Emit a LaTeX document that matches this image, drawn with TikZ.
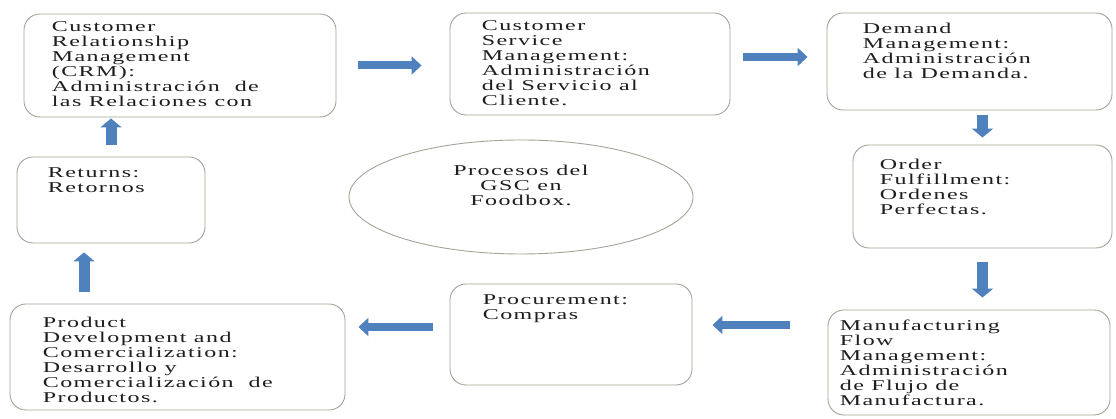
\documentclass[tikz,border=0pt]{standalone}
\usepackage{fontspec}
\setmainfont{Liberation Serif}[LetterSpace=6]
\usetikzlibrary{arrows.meta,shapes.geometric}
\definecolor{boxline}{RGB}{160,166,150}
\definecolor{arrowblue}{RGB}{79,129,189}
\definecolor{txt}{RGB}{30,30,30}

\begin{document}
\begin{tikzpicture}[x=1pt, y=1pt,
    procbox/.style={draw=boxline, line width=0.9pt, rounded corners=16pt},
    lbl/.style={anchor=north west, align=left, inner sep=0pt, text=txt, transform shape, xscale=1.6, font=\fontsize{15}{15}\selectfont},
    flow/.style={draw=arrowblue, line width=8pt, -{Triangle[width=18pt,length=10pt]}},
    vflow/.style={flow, line width=11pt, -{Triangle[width=21pt,length=9pt]}}]
    \useasboundingbox[fill=white] (0,0) rectangle (1116,419);

    % Process boxes
    \node[procbox, minimum width=312pt, minimum height=103pt] (crm) at (180,353.5) {};
    \node[procbox, minimum width=280pt, minimum height=102pt] (csm) at (590,355) {};
    \node[procbox, minimum width=285pt, minimum height=97pt] (dm) at (969.5,357.5) {};
    \node[procbox, minimum width=259pt, minimum height=103pt] (of) at (982.5,222.5) {};
    \node[procbox, minimum width=282pt, minimum height=105pt] (mfm) at (969,56.5) {};
    \node[procbox, minimum width=242pt, minimum height=101pt] (proc) at (571,84.5) {};
    \node[procbox, minimum width=335pt, minimum height=106pt] (pd) at (177.5,62) {};
    \node[procbox, minimum width=188pt, minimum height=86pt] (ret) at (111,219) {};
    \node[draw=boxline, line width=0.9pt, ellipse, minimum width=344pt, minimum height=114pt] (gsc) at (521,222) {};

    % Texts
    \node[lbl] (crmT) at ([shift={(28pt,-8pt)}]crm.north west) {Customer\\Relationship\\Management\\(CRM):\\Administración\ \ de\\las Relaciones con};
    \node[lbl] (csmT) at ([shift={(32pt,-8pt)}]csm.north west) {Customer\\Service\\Management:\\Administración\\del Servicio al\\Cliente.};
    \node[lbl] (dmT) at ([shift={(36pt,-10pt)}]dm.north west) {Demand\\Management:\\Administración\\de la Demanda.};
    \node[lbl] (ofT) at ([shift={(27pt,-14pt)}]of.north west) {Order\\Fulfillment:\\Ordenes\\Perfectas.};
    \node[lbl] (mfmT) at ([shift={(12pt,-10pt)}]mfm.north west) {Manufacturing\\Flow\\Management:\\Administración\\de Flujo de\\Manufactura.};
    \node[lbl] (procT) at ([shift={(33pt,-11pt)}]proc.north west) {Procurement:\\Compras};
    \node[lbl] (pdT) at ([shift={(33pt,-13pt)}]pd.north west) {Product\\Development and\\Comercialization:\\Desarrollo y\\Comercialización\ \ de\\Productos.};
    \node[lbl] (retT) at ([shift={(31pt,-11pt)}]ret.north west) {Returns:\\Retornos};
    \node[lbl, anchor=center, align=center] (gscT) at ([yshift=12pt]gsc.center) {Procesos del\\GSC en\\Foodbox.};

    % Flow arrows
    \coordinate (m2) at ([yshift=7pt]csm.east);
    \coordinate (m5) at ([yshift=9.5pt]proc.east);
    \coordinate (m6) at ([yshift=7.5pt]proc.west);
    \coordinate (m7) at ([xshift=-27pt]ret.south);
    \draw[flow, shorten <=22pt, shorten >=28pt] (crm.east) -- (crm.east -| csm.west);
    \draw[flow, shorten <=13pt, shorten >=19pt] (m2) -- (m2 -| dm.west);
    \draw[vflow, shorten <=5pt, shorten >=7pt] (dm.south -| of.north) -- (of.north);
    \draw[vflow, shorten <=14pt, shorten >=12pt] (of.south) -- (of.south |- mfm.north);
    \draw[flow, shorten <=38pt, shorten >=20pt] (m5 -| mfm.west) -- (m5);
    \draw[flow, shorten <=17pt, shorten >=13pt] (m6) -- (m6 -| pd.east);
    \draw[vflow, shorten <=12pt, shorten >=9pt] (m7 |- pd.north) -- (m7);
    \draw[vflow, shorten <=12pt, shorten >=1pt] (ret.north) -- (ret.north |- crm.south);
\end{tikzpicture}
\end{document}
